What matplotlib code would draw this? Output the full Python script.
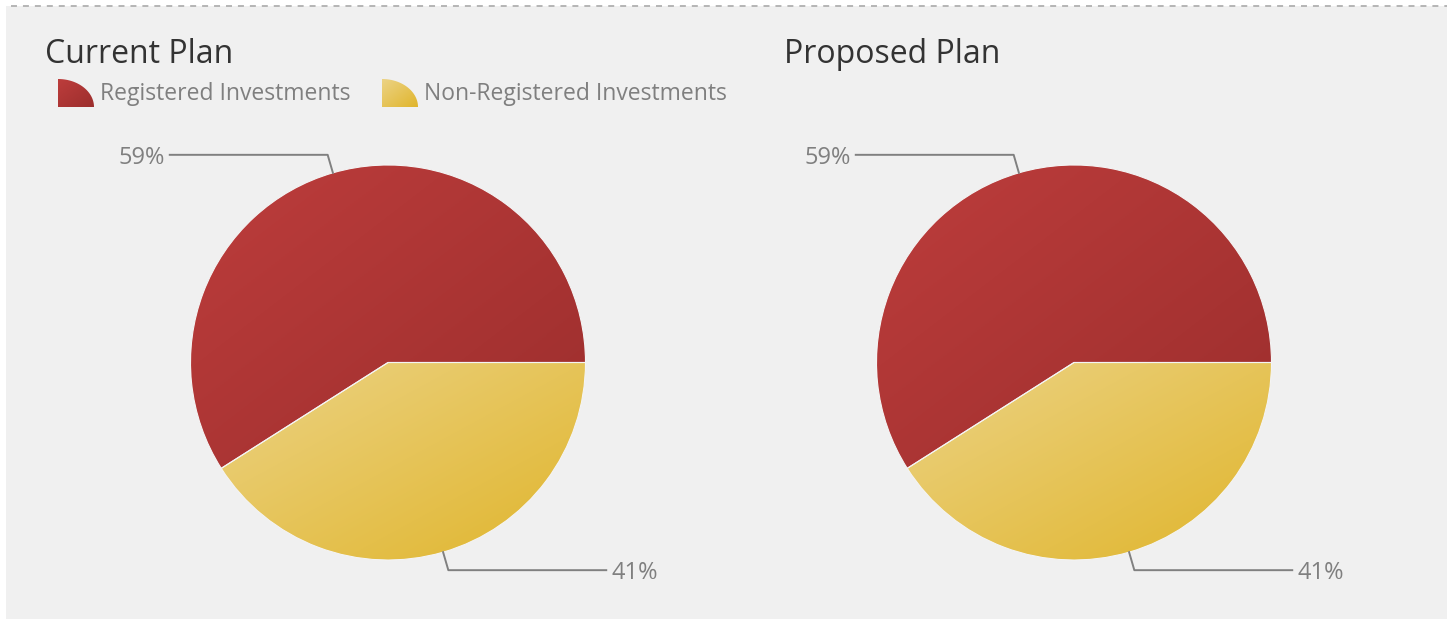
import numpy as np
import matplotlib.pyplot as plt
from matplotlib.patches import Rectangle, Polygon
from matplotlib.colors import LinearSegmentedColormap

plt.rcParams['font.family'] = ['Open Sans', 'DejaVu Sans']
plt.rcParams['lines.scale_dashes'] = False

# data
plan_titles = ['Current Plan', 'Proposed Plan']
categories = ['Registered Investments', 'Non-Registered Investments']
current_values = [59, 41]
proposed_values = [59, 41]
plan_values = [current_values, proposed_values]

# colours: light (top-left) -> dark (bottom-right)
grad_colors = [('#bd3d3c', '#9c2e2d'), ('#ecd385', '#e0b52c')]
text_grey = '#7f7f7f'

W, H = 1447, 619
fig = plt.figure(figsize=(W / 100, H / 100), dpi=100, facecolor='white')

# overlay axes in pixel coordinates
bg = fig.add_axes([0, 0, 1, 1])
bg.set_xlim(0, W)
bg.set_ylim(H, 0)
bg.axis('off')
bg.add_patch(Rectangle((6, 6), W - 6, H - 6, facecolor='#f0f0f0', edgecolor='none'))
bg.plot([11, W], [5.5, 5.5], color='#b5b5b5', lw=1.4, linestyle=(0, (4.3, 4.3)))


def gradient_fill(ax, patch, c1, c2, extent):
    cmap = LinearSegmentedColormap.from_list('g', [c1, c2])
    n = 200
    xx, yy = np.meshgrid(np.linspace(0, 1, n), np.linspace(0, 1, n))
    img = (xx + yy) / 2
    im = ax.imshow(img, cmap=cmap, extent=extent, origin='upper',
                   aspect='auto', zorder=patch.get_zorder(), interpolation='bilinear')
    im.set_clip_path(patch)


# legend
legend_x = [58, 382]
for i, cat in enumerate(categories):
    x0, y0 = legend_x[i], 107
    t = np.linspace(0, np.pi / 2, 40)
    pts = [(x0, y0)] + [(x0 + 36 * np.sin(a), y0 - 28 * np.cos(a)) for a in t]
    poly = Polygon(pts, closed=True, facecolor='none', edgecolor='none')
    bg.add_patch(poly)
    gradient_fill(bg, poly, grad_colors[i][0], grad_colors[i][1], [x0, x0 + 36, y0, y0 - 28])
    bg.text(x0 + 42, 100, cat, fontsize=16.5, color=text_grey, va='baseline', ha='left')

# pies
centers = [388, 1074]
r = 197.5
title_x = [45, 784]
for k in range(2):
    bg.text(title_x[k], 63, plan_titles[k], fontsize=23, color='#333333', va='baseline', ha='left')
    cx, cy = centers[k], 362.5
    ax = fig.add_axes([(cx - r) / W, (H - cy - r) / H, 2 * r / W, 2 * r / H])
    wedges, _ = ax.pie(plan_values[k], startangle=0, counterclock=True, radius=1,
                       wedgeprops=dict(edgecolor='#f4f4f4', linewidth=0.8))
    ax.set_xlim(-1, 1)
    ax.set_ylim(-1, 1)
    ax.axis('off')
    for i, w in enumerate(wedges):
        w.set_facecolor('none')
        bb = w.get_path().get_extents(w.get_transform() - ax.transData)
        gradient_fill(ax, w, grad_colors[i][0], grad_colors[i][1],
                      [bb.x0, bb.x1, bb.y0, bb.y1])
        w.set_zorder(3)
        # label with leader line
        mid = np.deg2rad((w.theta1 + w.theta2) / 2)
        ex, ey = np.cos(mid), np.sin(mid)
        elbow = 1.095
        ox, oy = elbow * ex, elbow * ey
        side = 1 if ex > 0 else -1
        lx = side * 1.105
        ax.plot([ex, ox, lx], [ey, oy, oy], color='#808080', lw=1.4, clip_on=False, zorder=4)
        pct = plan_values[k][i] / sum(plan_values[k]) * 100
        ax.text(lx + side * 0.025, oy, f'{pct:.0f}%', fontsize=17, color=text_grey,
                ha='left' if side > 0 else 'right', va='center_baseline', clip_on=False)

fig.savefig('out.png', dpi=100, facecolor=fig.get_facecolor())
